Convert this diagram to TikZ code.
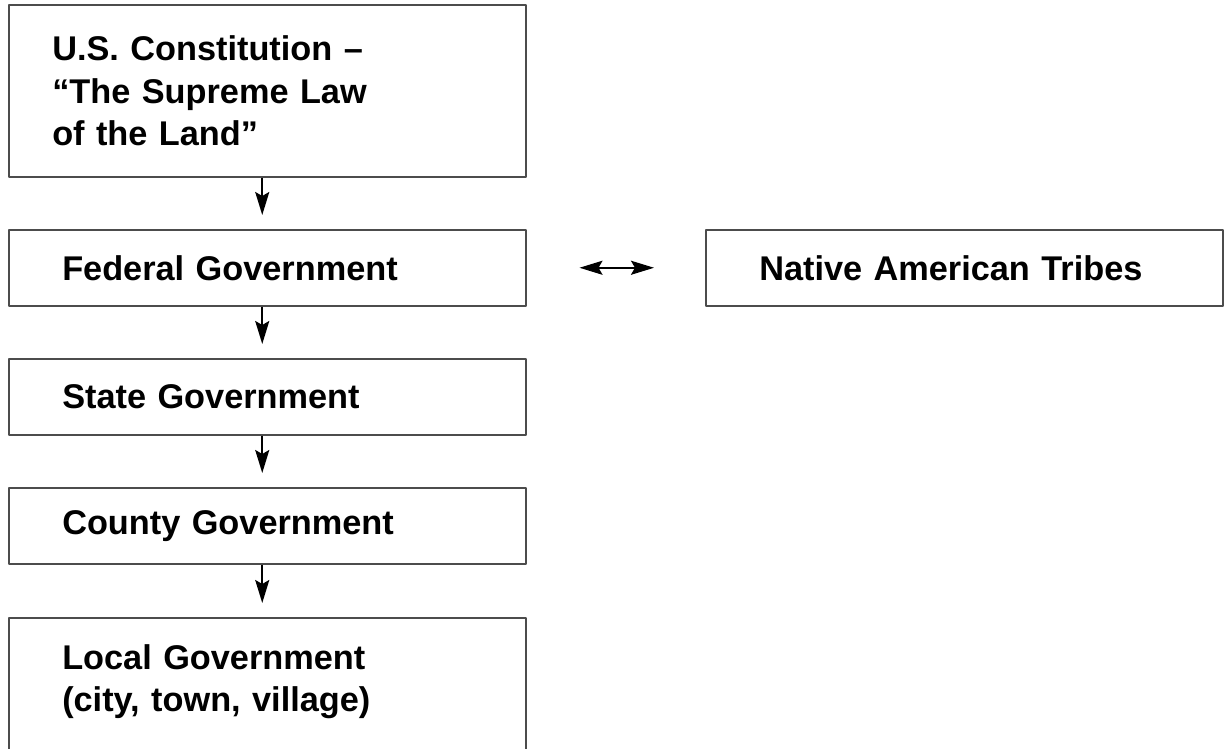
\documentclass[tikz,border=0pt]{standalone}
\usepackage{fontspec}
\setmainfont{Liberation Sans}
\usetikzlibrary{arrows.meta}

\begin{document}
\begin{tikzpicture}[x=1pt,y=-1pt,line join=round,
	box/.style={draw=black!70,line width=1.5pt,anchor=north west,minimum width=517pt,minimum height=76pt,
		inner xsep=53.5pt,inner ysep=0pt,text width=410pt,align=left,font=\fontsize{34.3}{42.5}\selectfont\bfseries},
	link/.style={line width=2pt,-{Stealth[length=23pt,width=14pt,inset=4pt]},shorten >=14pt}]
	\clip (0,0) rectangle (1225,748);
	\node[box,inner xsep=43.5pt,text width=430pt,minimum height=172pt] (const) at (8,4) {U.S. Constitution –\\“The Supreme Law\\of the Land”};
	\node[box] (fed) at (8,229) {Federal Government};
	\node[box] (state) at (8,358) {State Government};
	\node[box] (county) at (8,487) {County Government};
	\node[box,minimum height=160pt,text depth=82pt] (local) at (8,617) {Local Government\\(city, town, village)};
	\node[box] (tribes) at (705,229) {Native American Tribes};
	% arrows down
	\draw[link] ([xshift=-5pt]const.south) -- ([xshift=-5pt]fed.north);
	\draw[link] ([xshift=-5pt]fed.south) -- ([xshift=-5pt]state.north);
	\draw[link] ([xshift=-5pt]state.south) -- ([xshift=-5pt]county.north);
	\draw[link] ([xshift=-5pt]county.south) -- ([xshift=-5pt]local.north);
	\draw[line width=2pt,{Stealth[length=23pt,width=14pt,inset=4pt]}-{Stealth[length=23pt,width=14pt,inset=4pt]},shorten <=53pt,shorten >=51pt] (fed.east) -- (tribes.west);
\end{tikzpicture}
\end{document}
